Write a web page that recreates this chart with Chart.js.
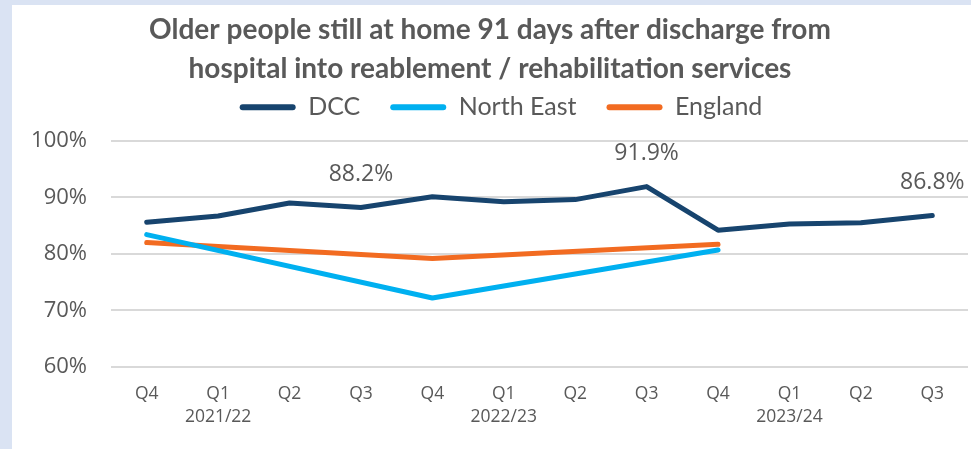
<!DOCTYPE html>
<html>
<head>
<meta charset="utf-8">
<script src="https://cdn.jsdelivr.net/npm/chart.js@4.4.1/dist/chart.umd.min.js"></script>
<style>
  html, body { margin: 0; padding: 0; background: #dae3f3; width: 971px; height: 449px; overflow: hidden; }
  #wrap { position: absolute; left: 12px; top: 5px; width: 959px; height: 444px; background: #ffffff; }
  canvas { display: block; }
</style>
</head>
<body>
<div id="wrap"><canvas id="c" width="959" height="444"></canvas></div>
<script>
// ---- data ----
const quarters = ['Q4','Q1','Q2','Q3','Q4','Q1','Q2','Q3','Q4','Q1','Q2','Q3'];
const years    = ['', '2021/22', '', '', '', '2022/23', '', '', '', '2023/24', '', ''];
const dccValues       = [85.6, 86.7, 89.0, 88.2, 90.1, 89.2, 89.6, 91.9, 84.2, 85.3, 85.5, 86.8];
const northEastValues = [83.4, null, null, null, 72.2, null, null, null, 80.7, null, null, null];
const englandValues   = [82.0, null, null, null, 79.2, null, null, null, 81.7, null, null, null];
const labelledPoints  = [3, 7, 11];   // DCC points carrying a value label
const yTicks = [60, 70, 80, 90, 100];

const GREY = '#595959';
const labels = quarters.map((q, i) => [q, years[i]]);

const valueLabels = {
  id: 'valueLabels',
  afterDatasetsDraw(chart) {
    const meta = chart.getDatasetMeta(0);
    const ctx = chart.ctx;
    ctx.save();
    ctx.font = '23px "Open Sans"';
    ctx.fillStyle = GREY;
    ctx.textAlign = 'center';
    ctx.textBaseline = 'middle';
    labelledPoints.forEach(i => {
      const p = meta.data[i];
      ctx.fillText(dccValues[i].toFixed(1) + '%', p.x, p.y - 33);
    });
    ctx.restore();
  }
};

const legendTweak = {
  id: 'legendTweak',
  afterInit(chart) {
    const lg = chart.legend;
    if (!lg) return;
    const f = lg.fit;
    lg.fit = function () { f.call(this); this.height += 11; };
    const d = lg.draw;
    lg.draw = function () {
      const ctx = this.ctx;
      ctx.save();
      ctx.translate(11, 0);
      d.call(this);
      ctx.restore();
    };
  }
};

const common = { borderWidth: 5, pointRadius: 0, pointHoverRadius: 0, tension: 0,
                 borderCapStyle: 'round', borderJoinStyle: 'round', spanGaps: true, fill: false };

new Chart(document.getElementById('c'), {
  type: 'line',
  data: {
    labels: labels,
    datasets: [
      Object.assign({ label: 'DCC', data: dccValues, borderColor: '#17446e', backgroundColor: '#17446e' }, common),
      Object.assign({ label: 'North East', data: northEastValues, borderColor: '#00b0f0', backgroundColor: '#00b0f0' }, common),
      Object.assign({ label: 'England', data: englandValues, borderColor: '#f26b21', backgroundColor: '#f26b21' }, common)
    ]
  },
  options: {
    responsive: false,
    animation: false,
    layout: { padding: { left: 0, right: 3, top: 0, bottom: 0 } },
    plugins: {
      tooltip: { enabled: false },
      title: {
        display: true,
        text: ['Older people still at home 91 days after discharge from',
               'hospital into reablement / rehabilitation services'],
        color: GREY,
        font: { family: 'Lato', size: 28, weight: 'bold', lineHeight: 1.371 },
        padding: { top: 6, bottom: -23 }
      },
      legend: {
        display: true,
        position: 'top',
        labels: {
          color: GREY,
          font: { family: 'Lato', size: 25 },
          boxWidth: 56,
          boxHeight: 6,
          useBorderRadius: true,
          borderRadius: 3,
          padding: 30,
          generateLabels(chart) {
            const items = Chart.defaults.plugins.legend.labels.generateLabels(chart);
            items.forEach(it => { it.lineWidth = 0; it.strokeStyle = 'rgba(0,0,0,0)'; });
            return items;
          }
        }
      }
    },
    scales: {
      x: {
        offset: true,
        afterFit(scale) { scale.height = 82; },
        grid: { display: false, drawTicks: false },
        border: { display: false },
        ticks: {
          color: GREY,
          font: { family: 'Open Sans', size: 17.5, lineHeight: 1.31 },
          autoSkip: false, maxRotation: 0, minRotation: 0,
          padding: 15.5
        }
      },
      y: {
        min: 60, max: 100,
        afterBuildTicks(scale) { scale.ticks = yTicks.map(v => ({ value: v })); },
        afterFit(scale) { scale.width = 99; },
        grid: { color: '#d9d9d9', lineWidth: 2, drawTicks: false },
        border: { display: false },
        ticks: {
          color: GREY,
          font: { family: 'Open Sans', size: 22 },
          padding: 24,
          callback: v => v + '%'
        }
      }
    }
  },
  plugins: [valueLabels, legendTweak]
});
</script>
</body>
</html>
